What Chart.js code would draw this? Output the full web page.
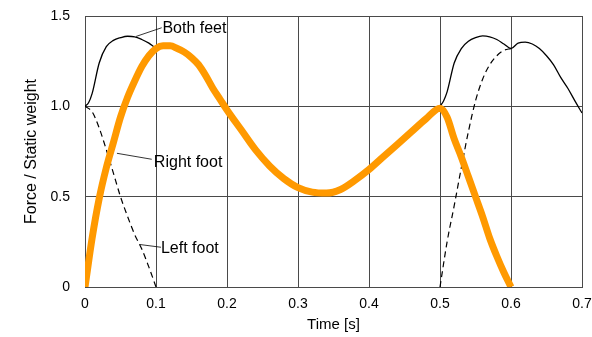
<!DOCTYPE html>
<html>
<head>
<meta charset="utf-8">
<script src="https://cdn.jsdelivr.net/npm/chart.js@4/dist/chart.umd.min.js"></script>
<style>
  html, body { margin: 0; padding: 0; background: #fff; }
  #wrap { width: 592px; height: 337px; }
</style>
</head>
<body>
<div id="wrap"><canvas id="gait-chart"></canvas></div>
<script>
// Right foot (thick orange)
const rightT = [0, 0.01, 0.02, 0.03, 0.04, 0.05, 0.06, 0.07, 0.08, 0.09, 0.10, 0.11, 0.12, 0.13, 0.14, 0.15, 0.16, 0.17, 0.18, 0.19, 0.20, 0.22, 0.24, 0.26, 0.28, 0.30, 0.32, 0.34, 0.36, 0.38, 0.40, 0.42, 0.44, 0.46, 0.48, 0.50, 0.51, 0.52, 0.53, 0.54, 0.55, 0.56, 0.57, 0.58, 0.59, 0.60];
const rightF = [0, 0.27, 0.49, 0.66, 0.80, 0.94, 1.05, 1.14, 1.22, 1.28, 1.32, 1.335, 1.335, 1.32, 1.30, 1.27, 1.23, 1.17, 1.10, 1.04, 0.98, 0.87, 0.76, 0.67, 0.60, 0.55, 0.525, 0.52, 0.54, 0.59, 0.65, 0.72, 0.79, 0.86, 0.93, 0.99, 0.94, 0.82, 0.72, 0.61, 0.50, 0.39, 0.27, 0.17, 0.08, 0];

// Both feet (thin solid), two pieces
const bothT1 = [0, 0.005, 0.01, 0.02, 0.03, 0.04, 0.05, 0.06, 0.07, 0.08, 0.09, 0.097];
const bothF1 = [1.0, 1.02, 1.07, 1.24, 1.33, 1.365, 1.38, 1.388, 1.385, 1.37, 1.35, 1.33];
const bothT2 = [0.50, 0.505, 0.51, 0.52, 0.53, 0.54, 0.55, 0.56, 0.57, 0.58, 0.59, 0.60, 0.61, 0.62, 0.63, 0.64, 0.65, 0.66, 0.67, 0.68, 0.69, 0.70];
const bothF2 = [1.0, 1.03, 1.08, 1.24, 1.32, 1.36, 1.38, 1.39, 1.385, 1.37, 1.345, 1.32, 1.35, 1.355, 1.345, 1.32, 1.28, 1.23, 1.16, 1.10, 1.03, 0.963];

// Left foot (dashed), two pieces
const leftT1 = [0, 0.01, 0.02, 0.03, 0.04, 0.05, 0.06, 0.07, 0.08, 0.09, 0.10];
const leftF1 = [1.0, 0.97, 0.88, 0.76, 0.63, 0.50, 0.39, 0.29, 0.21, 0.11, 0];
const leftT2 = [0.50, 0.51, 0.52, 0.53, 0.54, 0.55, 0.56, 0.57, 0.58, 0.59, 0.60];
const leftF2 = [0, 0.25, 0.45, 0.66, 0.86, 1.03, 1.15, 1.23, 1.28, 1.31, 1.32];

const xTicks = [0, 0.1, 0.2, 0.3, 0.4, 0.5, 0.6, 0.7];
const yTicks = [0, 0.5, 1.0, 1.5];

// labels with leader lines, in data units
const noteText = ['Both feet', 'Right foot', 'Left foot'];
const noteX = [0.109, 0.097, 0.107];
const noteY = [1.43, 0.69, 0.215];
const leadFromX = [0.072, 0.045, 0.0775];
const leadFromY = [1.387, 0.74, 0.235];
const leadToX = [0.108, 0.094, 0.107];
const leadToY = [1.435, 0.707, 0.22];

const pts = (t, f) => t.map((v, i) => ({ x: v, y: f[i] }));
const font = 'Liberation Sans, Arial, sans-serif';
const gridCol = '#4a4a4a';

const notes = {
  id: 'notes',
  afterDatasetsDraw(chart) {
    const c = chart.ctx;
    const xs = chart.scales.x, ys = chart.scales.y;
    c.save();
    c.strokeStyle = '#000';
    c.lineWidth = 0.8;
    c.fillStyle = '#000';
    c.font = '16px ' + font;
    c.textBaseline = 'middle';
    c.textAlign = 'left';
    noteText.forEach((txt, i) => {
      c.beginPath();
      c.moveTo(xs.getPixelForValue(leadFromX[i]), ys.getPixelForValue(leadFromY[i]));
      c.lineTo(xs.getPixelForValue(leadToX[i]), ys.getPixelForValue(leadToY[i]));
      c.stroke();
      c.fillText(txt, xs.getPixelForValue(noteX[i]), ys.getPixelForValue(noteY[i]));
    });
    c.restore();
  }
};

// keep tick labels from pushing the plot area in
const noOverhang = s => {
  s.paddingTop = 0; s.paddingBottom = 0; s.paddingLeft = 0; s.paddingRight = 0;
};

const ctx = document.getElementById('gait-chart').getContext('2d');

const gaitChart = new Chart(ctx, {
  type: 'scatter',
  data: {
    datasets: [{
      label: 'Right foot',
      data: pts(rightT, rightF),
      borderColor: '#ff9900',
      borderWidth: 7,
      borderCapStyle: 'butt'
    }, {
      label: 'Both feet',
      data: pts(bothT1, bothF1),
      borderColor: '#000',
      borderWidth: 1.3
    }, {
      label: 'Both feet 2',
      data: pts(bothT2, bothF2),
      borderColor: '#000',
      borderWidth: 1.3
    }, {
      label: 'Left foot',
      data: pts(leftT1, leftF1),
      borderColor: '#000',
      borderWidth: 1.2,
      borderDash: [6, 4]
    }, {
      label: 'Left foot 2',
      data: pts(leftT2, leftF2),
      borderColor: '#000',
      borderWidth: 1.2,
      borderDash: [6, 4]
    }]
  },
  options: {
    responsive: true,
    maintainAspectRatio: false,
    animation: false,
    showLine: true,
    elements: {
      point: { radius: 0, hoverRadius: 0 },
      line: { cubicInterpolationMode: 'monotone', fill: false }
    },
    layout: { padding: { top: 16, right: 10, bottom: 0, left: 0 } },
    plugins: {
      legend: { display: false },
      tooltip: { enabled: false }
    },
    scales: {
      x: {
        type: 'linear',
        min: 0,
        max: 0.7,
        afterBuildTicks: s => { s.ticks = xTicks.map(v => ({ value: v })); },
        afterFit: s => { s.height = 50; noOverhang(s); },
        grid: { color: gridCol, lineWidth: 1, drawTicks: false },
        border: { color: gridCol, width: 1 },
        ticks: {
          padding: 9,
          color: '#000',
          font: { family: font, size: 14 },
          callback: v => v === 0 ? '0' : v.toFixed(1)
        },
        title: {
          display: true,
          text: 'Time [s]',
          color: '#000',
          font: { family: font, size: 15 },
          padding: { top: 0, bottom: 3 }
        }
      },
      y: {
        min: 0,
        max: 1.5,
        afterBuildTicks: s => { s.ticks = yTicks.map(v => ({ value: v })); },
        afterFit: s => { s.width = 85; noOverhang(s); },
        grid: { color: gridCol, lineWidth: 1, drawTicks: false },
        border: { color: gridCol, width: 1 },
        ticks: {
          padding: 15,
          color: '#000',
          font: { family: font, size: 14 },
          callback: v => v === 0 ? '0' : v.toFixed(1)
        },
        title: {
          display: true,
          text: 'Force / Static weight',
          color: '#000',
          font: { family: font, size: 16 },
          padding: { top: 22, bottom: 0 }
        }
      }
    }
  },
  plugins: [notes]
});
</script>
</body>
</html>
